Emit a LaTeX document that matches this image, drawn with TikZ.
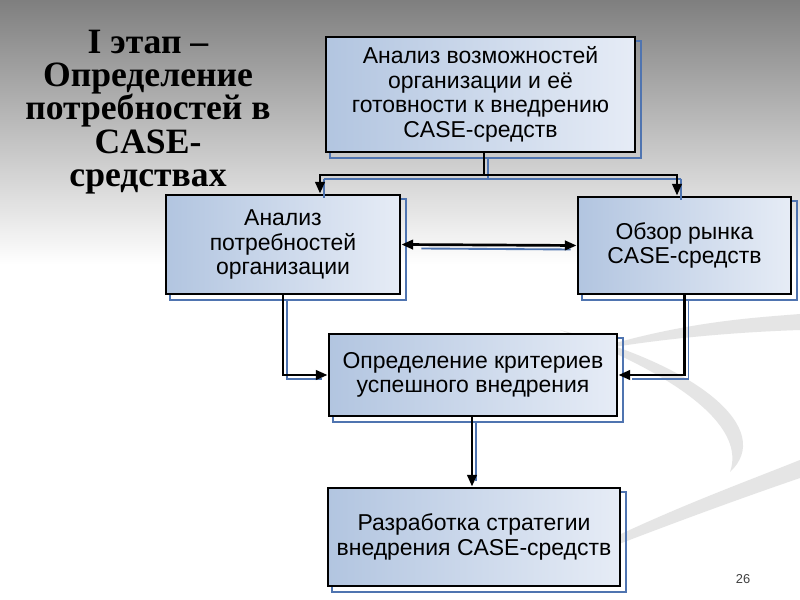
\documentclass[tikz,border=0pt]{standalone}
\usepackage{fontspec}
\setmainfont{Liberation Serif}
\newfontfamily\boxfont{Liberation Sans}
\usetikzlibrary{arrows.meta,backgrounds}

\definecolor{shadowblue}{RGB}{79,116,176}
\definecolor{boxleft}{RGB}{178,197,224}
\definecolor{boxright}{RGB}{230,236,246}
\definecolor{slidegray}{RGB}{127,127,127}

\tikzset{
  stagebox/.style={draw=black, line width=2.4pt, left color=boxleft, right color=boxright,
    align=center, inner sep=0pt, font=\boxfont\fontsize{19.6}{21}\selectfont},
  boxshadow/.style={draw=shadowblue, line width=1.6pt},
  link/.style={draw=black, line width=2.3pt, -{Triangle[length=10pt,width=8pt]}},
  twolink/.style={link, {Triangle[length=10pt,width=8pt]}-{Triangle[length=10pt,width=8pt]}},
  linkshadow/.style={draw=shadowblue, line width=1.6pt, transform canvas={shift={(4,4)}}},
  heading/.style={align=center, font=\bfseries\fontsize{30.4}{28.4}\selectfont},
  swoosh/.style={fill=black!10, draw=none}
}

\begin{document}
\begin{tikzpicture}[x=0.03cm, y=-0.03cm]
    \useasboundingbox (0,0) rectangle (800,600);

    % Kästen
    \node[stagebox, minimum width={309*0.03cm}, minimum height={115*0.03cm}] (b1) at (480.5,94.5)
      {Анализ возможностей\\организации и её\\готовности к внедрению\\CASE-средств};
    \node[stagebox, minimum width={234*0.03cm}, minimum height={99*0.03cm}] (b2) at (283,244.5)
      {Анализ\\потребностей\\организации};
    \node[stagebox, minimum width={213*0.03cm}, minimum height={97*0.03cm}] (b3) at (684.5,245.5)
      {Обзор рынка\\CASE-средств};
    \node[stagebox, minimum width={288*0.03cm}, minimum height={82*0.03cm}] (b4) at (473,375)
      {Определение критериев\\успешного внедрения};
    \node[stagebox, minimum width={292*0.03cm}, minimum height={98*0.03cm}] (b5) at (474,537)
      {Разработка стратегии\\внедрения  CASE-средств};

    % Überschrift
    \node[heading] (title) at (148,112) {I этап –\\Определение\\потребностей в\\CASE-\\средствах};
    \node[font=\boxfont\fontsize{11}{12}\selectfont, text=black!75] (pnum) at (743,579) {26};

    % Verzweigung
    \coordinate (split) at (484,175);
    \coordinate (leftdrop) at (320,175);
    \coordinate (rightdrop) at (677,175);

    % Schatten der Pfeile
    \draw[linkshadow] (b1.south -| split) -- (split);
    \draw[linkshadow] (leftdrop) -- (rightdrop);
    \draw[linkshadow] (leftdrop) -- (leftdrop |- b2.north);
    \draw[linkshadow] (rightdrop) -- (rightdrop |- b3.north);
    \draw[linkshadow] ([shift={(16,0)}]b2.east) -- ([shift={(-10,0)}]b3.west);
    \draw[linkshadow] (b2.south) |- ([shift={(-10,0)}]b4.west);
    \draw[linkshadow] (b3.south) |- ([shift={(10,0)}]b4.east);
    \draw[linkshadow] (b4.south -| 472,0) -- ([shift={(0,-10)}]b5.north -| 472,0);

    % Pfeile
    \draw[line width=2.3pt] (b1.south -| split) -- (split);
    \draw[link] (split) -| (leftdrop |- b2.north);
    \draw[link] (split) -| (rightdrop |- b3.north);
    \draw[twolink] (b2.east) -- (b3.west);
    \draw[link] (b2.south) |- (b4.west);
    \draw[link] (b3.south) |- (b4.east);
    \draw[link] (b4.south -| 472,0) -- (b5.north -| 472,0);

    % Hintergrund
    \begin{scope}[on background layer]
      \fill[white] (0,0) rectangle (800,600);
      \shade[top color=slidegray, bottom color=white] (0,0) rectangle (800,265);
      \path[swoosh] (585,352) .. controls (680,322) and (750,318) .. (800,314)
        -- (800,330) .. controls (740,332) and (660,338) .. (585,352) -- cycle;
      \path[swoosh] (560,330) .. controls (700,365) and (775,430) .. (730,472)
        .. controls (745,430) and (690,380) .. (560,330) -- cycle;
      \path[swoosh] (540,575) .. controls (640,520) and (730,488) .. (800,460)
        -- (800,478) .. controls (730,502) and (640,535) .. (540,575) -- cycle;
      \foreach \b in {b1,b2,b3,b4,b5}
        \draw[boxshadow] ([shift={(5,5)}]\b.north west) rectangle ([shift={(5,5)}]\b.south east);
    \end{scope}
\end{tikzpicture}
\end{document}
